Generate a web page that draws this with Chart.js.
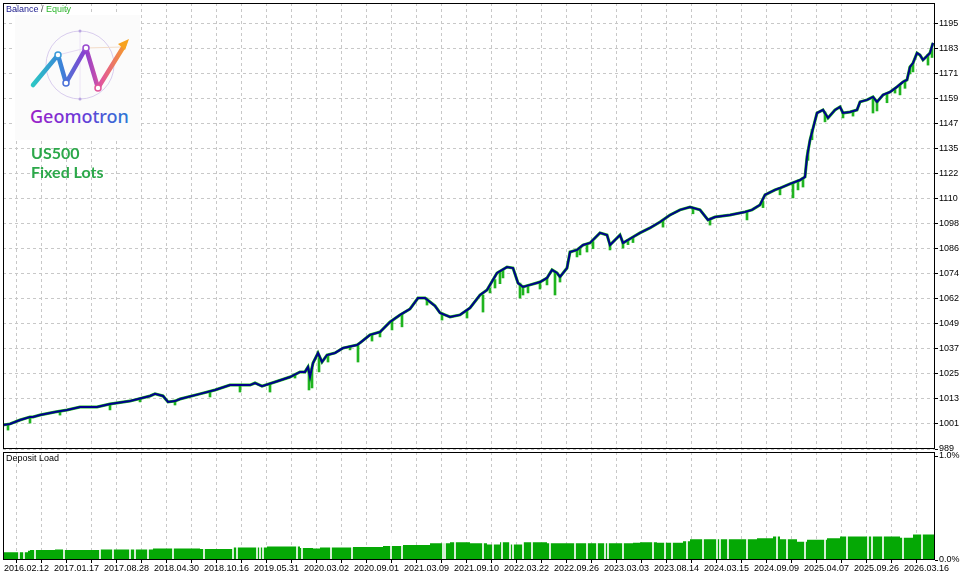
<!DOCTYPE html>
<html>
<head>
<meta charset="utf-8">
<script src="https://cdn.jsdelivr.net/npm/chart.js@4.4.1/dist/chart.umd.min.js"></script>
<style>
  body { margin: 0; background: #fff; width: 960px; height: 573px; overflow: hidden; position: relative; }
  canvas { position: absolute; left: 0; }
  #topChart { top: 0; }
  #loadChart { top: 451px; }
  .lbl { position: absolute; font-family: "Liberation Sans Narrow", "Liberation Sans", sans-serif; font-size: 9px; white-space: nowrap; color: #000; }
  #sym { position: absolute; left: 31px; top: 143px; font-family: Lato, "Open Sans", sans-serif; font-weight: 700; font-size: 16px; line-height: 19px; color: #2ca84a; }
  #logo { position: absolute; left: 0; top: 0; }
</style>
</head>
<body>
<canvas id="topChart" width="960" height="451"></canvas>
<canvas id="loadChart" width="960" height="122"></canvas>

<svg id="logo" width="160" height="145" xmlns="http://www.w3.org/2000/svg">
  <defs>
    <linearGradient id="zig" x1="33" y1="0" x2="128" y2="0" gradientUnits="userSpaceOnUse">
      <stop offset="0" stop-color="#2cc6c4"/>
      <stop offset="0.3" stop-color="#3a82d8"/>
      <stop offset="0.55" stop-color="#8a3fd0"/>
      <stop offset="0.72" stop-color="#e2569c"/>
      <stop offset="1" stop-color="#f7a21e"/>
    </linearGradient>
    <linearGradient id="word" x1="31" y1="0" x2="129" y2="0" gradientUnits="userSpaceOnUse">
      <stop offset="0" stop-color="#9a1fc8"/>
      <stop offset="0.5" stop-color="#6a3ad8"/>
      <stop offset="1" stop-color="#2a78d4"/>
    </linearGradient>
  </defs>
  <rect x="15" y="15" width="125" height="125" fill="#fbfbfb"/>
  <circle cx="80" cy="65" r="34" fill="none" stroke="#d9cdee" stroke-width="1"/>
  <line x1="58" y1="55" x2="86" y2="48" stroke="#e6daf3" stroke-width="1"/>
  <line x1="86" y1="48" x2="122" y2="47" stroke="#f3dcc8" stroke-width="1"/>
  <line x1="80" y1="31" x2="80" y2="99" stroke="#ece4f6" stroke-width="1"/>
  <polyline points="33,85 58,55 66,83 86,48 98,88 124,46" fill="none" stroke="url(#zig)" stroke-width="4.5" stroke-linecap="round" stroke-linejoin="round"/>
  <polygon points="129,39 118,44 125,50" fill="#f7a21e"/>
  <circle cx="58" cy="55" r="3" fill="#fff" stroke="#3a9ad8" stroke-width="1.5"/>
  <circle cx="66" cy="83" r="3" fill="#fff" stroke="#4a70d8" stroke-width="1.5"/>
  <circle cx="86" cy="48" r="3" fill="#fff" stroke="#9a4bd0" stroke-width="1.5"/>
  <circle cx="98" cy="88" r="3" fill="#fff" stroke="#e0559a" stroke-width="1.5"/>
  <circle cx="80" cy="31" r="1.5" fill="#b9a6e0"/>
  <circle cx="80" cy="99" r="1.5" fill="#b9a6e0"/>
  <text x="30" y="123" font-family="'Noto Sans', sans-serif" font-weight="500" font-size="18" fill="url(#word)">Geomotron</text>
</svg>

<div class="lbl" style="left:6px;top:4px"><span style="color:#1c1c8e">Balance</span> <span style="color:#555">/</span> <span style="color:#2db82d">Equity</span></div>
<div class="lbl" style="left:6px;top:453px">Deposit Load</div>
<div id="sym">US500<br>Fixed Lots</div>

<script>
// balance curve: trade index -> balance
const balanceX = [0,7,17,27,30,37,47,52,64,77,94,107,127,147,152,160,165,172,177,197,212,227,247,252,259,272,287,297,302,305,307,310,315,319,324,332,340,354,357,367,377,387,397,407,415,422,432,437,447,457,467,477,484,494,504,510,515,520,527,537,544,549,554,557,564,567,574,580,587,597,604,607,617,620,630,637,647,657,667,677,687,697,705,712,727,742,749,757,762,772,777,787,797,802,804,807,814,820,825,832,837,840,847,854,857,864,870,874,880,887,894,900,904,907,910,914,917,920,924,927,930];
const balanceY = [1000.3,1000.8,1002.7,1004.2,1004.2,1005.1,1006.1,1006.6,1007.6,1009.0,1009.0,1010.5,1011.9,1014.4,1015.4,1014.4,1011.5,1011.9,1012.9,1015.4,1017.3,1019.7,1019.7,1020.7,1019.2,1021.2,1023.6,1026.1,1026.1,1028.5,1023.6,1030.4,1035.3,1030.9,1034.3,1035.3,1037.7,1039.2,1040.2,1044.1,1045.5,1050.4,1053.8,1056.7,1062.0,1062.0,1058.2,1054.8,1052.8,1053.8,1057.2,1063.5,1065.9,1074.2,1077.1,1076.6,1069.3,1067.4,1068.4,1069.8,1071.8,1075.7,1074.2,1072.3,1076.6,1084.4,1085.4,1087.8,1088.8,1093.7,1092.7,1087.8,1092.7,1088.8,1091.7,1093.7,1096.1,1099.0,1102.4,1104.9,1106.3,1104.9,1100.0,1101.4,1102.4,1103.9,1104.9,1107.3,1112.2,1114.6,1115.5,1117.5,1119.4,1120.9,1130.6,1138.9,1152.0,1153.5,1149.6,1153.5,1155.0,1152.0,1152.5,1153.5,1157.4,1158.4,1159.8,1157.4,1160.8,1162.2,1164.7,1167.1,1168.1,1174.4,1176.3,1181.2,1180.2,1177.8,1179.7,1181.2,1186.1];

// equity drawdown spikes: trade index, equity low, equity high
const dipX    = [5,27,57,107,137,172,207,237,267,292,306,309,316,325,347,355,369,377,389,399,424,439,464,480,487,492,497,500,517,520,525,537,544,552,557,574,577,584,590,607,620,625,630,660,690,707,744,760,777,790,795,800,805,809,822,840,850,870,874,884,892,897,902,907,910,925,929];
const dipLow  = [997.8,1001.2,1005.1,1007.6,1011.5,1010.0,1013.9,1016.3,1016.3,1023.1,1017.3,1018.3,1026.1,1030.9,1036.8,1030.9,1041.1,1043.1,1046.5,1048.0,1058.6,1051.3,1052.3,1055.2,1064.5,1066.9,1069.0,1071.8,1062.0,1063.5,1064.5,1066.4,1068.4,1063.5,1069.8,1082.0,1083.0,1084.4,1086.0,1085.4,1086.3,1088.0,1089.0,1096.5,1103.0,1097.5,1100.0,1106.0,1112.2,1110.7,1114.6,1116.0,1129.0,1139.0,1147.7,1149.6,1150.5,1152.0,1153.0,1157.0,1161.7,1160.8,1164.0,1171.0,1172.0,1175.3,1179.0];
const dipHigh = [1000.6,1004.2,1007.0,1010.5,1013.0,1011.9,1016.8,1019.7,1020.5,1025.0,1027.0,1028.0,1033.0,1034.5,1038.5,1039.2,1044.1,1045.5,1051.0,1054.0,1062.0,1054.8,1056.0,1063.5,1067.0,1071.0,1075.0,1076.0,1069.3,1068.0,1068.4,1069.8,1071.8,1074.2,1072.3,1085.4,1086.0,1088.0,1089.5,1087.8,1088.8,1090.5,1091.7,1100.0,1106.0,1100.5,1104.0,1109.0,1115.5,1118.0,1119.4,1120.5,1134.0,1144.0,1152.5,1152.5,1153.0,1159.8,1157.4,1161.5,1164.0,1166.0,1168.0,1174.4,1176.3,1180.5,1183.0];

// deposit load (%), stepped
const loadX = [0,25,27,52,60,97,130,150,174,197,230,264,297,310,317,350,380,400,427,447,467,484,497,507,520,544,567,600,630,637,654,680,687,720,754,770,777,794,804,824,837,857,870,897,910,918,932];
const loadY = [0.07,0.075,0.09,0.095,0.10,0.096,0.10,0.10,0.11,0.11,0.105,0.12,0.13,0.115,0.11,0.12,0.125,0.135,0.145,0.16,0.17,0.16,0.15,0.17,0.15,0.17,0.16,0.16,0.16,0.165,0.17,0.165,0.18,0.2,0.2,0.21,0.225,0.2,0.175,0.195,0.21,0.225,0.225,0.225,0.215,0.245,0.245];
// idle gaps in the load histogram
const gapX = [16,21,32,61,97,110,127,132,145,170,201,230,234,254,257,260,294,299,328,349,388,399,440,442,452,480,490,499,507,510,520,529,547,572,584,594,602,605,620,650,662,669,684,700,714,717,725,744,774,784,802,822,844,865,869,880,900,919];

const dateLabels = ['2016.02.12','2017.01.17','2017.08.28','2018.04.30','2018.10.16','2019.05.31','2020.03.02','2020.09.01','2021.03.09','2021.09.10','2022.03.22','2022.09.26','2023.03.03','2023.08.14','2024.03.15','2024.09.09','2025.04.07','2025.09.26','2026.03.16'];
const dateTickPos = [1,51,101,151,201,251,301,351,401,451,501,551,601,651,701,751,801,851,901];

const equityTicks = [989,1001,1013,1025,1037,1049,1062,1074,1086,1098,1110,1122,1135,1147,1159,1171,1183,1195];
const yTickStart = 988.6, yTickStep = 12.16;
const loadTicks = ['0.0%','1.0%'];

const FONT = '"Liberation Sans Narrow", "Liberation Sans", sans-serif';
const GRID = '#c8c8c8';
const BALANCE_COLOR = '#00008b';
const EQUITY_COLOR = '#1fb41f';
const LOAD_COLOR = '#05a805';

// vertical grid every 25 units
const xGrid = [1];
for (let v = 26; v <= 926; v += 25) xGrid.push(v);

const framePlugin = {
  id: 'frame',
  afterDraw(chart) {
    const { ctx, chartArea: a } = chart;
    ctx.save();
    ctx.strokeStyle = '#000';
    ctx.lineWidth = 1;
    ctx.strokeRect(Math.round(a.left) + 0.5, Math.round(a.top) + 0.5, Math.round(a.right - a.left) - 1, Math.round(a.bottom - a.top) - 1);
    ctx.restore();
  }
};

function xAxis(showLabels) {
  return {
    type: 'linear', min: 0, max: 932, offset: false,
    afterBuildTicks: s => { s.ticks = xGrid.map(v => ({ value: v })); },
    afterFit: s => { s.paddingLeft = 0; s.paddingRight = 0; s.height = showLabels ? 13 : 0; },
    grid: {
      color: c => (c.tick && c.tick.value === 1) ? 'rgba(0,0,0,0)' : GRID,
      drawTicks: showLabels, tickLength: 3, tickColor: c => (c.tick && c.tick.value === 1) ? 'rgba(0,0,0,0)' : '#000'
    },
    border: { display: false, dash: [3, 3] },
    ticks: {
      display: showLabels, autoSkip: false, maxRotation: 0, align: 'start', padding: 0, color: '#000',
      font: { family: FONT, size: 9 },
      callback: v => { const i = dateTickPos.indexOf(v); return i >= 0 ? dateLabels[i] : ''; }
    }
  };
}

new Chart(document.getElementById('topChart'), {
  type: 'line',
  data: {
    datasets: [
      {
        label: 'Balance', order: 0,
        data: balanceX.map((x, i) => ({ x, y: balanceY[i] })),
        borderColor: BALANCE_COLOR, borderWidth: 2, pointRadius: 0, tension: 0
      },
      {
        label: 'Equity', order: 1,
        data: balanceX.map((x, i) => ({ x, y: balanceY[i] })),
        borderColor: EQUITY_COLOR, borderWidth: 3, pointRadius: 0, tension: 0
      },
      {
        type: 'bar', label: 'Equity dips', order: 2,
        data: dipX.map((x, i) => ({ x, y: [dipLow[i], dipHigh[i]] })),
        backgroundColor: EQUITY_COLOR, barThickness: 2, grouped: false
      }
    ]
  },
  options: {
    responsive: false, animation: false, devicePixelRatio: 1,
    layout: { padding: { left: 3, top: 3, right: 0, bottom: 2 } },
    plugins: { legend: { display: false }, tooltip: { enabled: false } },
    scales: {
      x: xAxis(false),
      y: {
        position: 'right', min: 988.6, max: 1205.5,
        afterBuildTicks: s => { s.ticks = equityTicks.map((t, i) => ({ value: yTickStart + i * yTickStep })); },
        afterFit: s => { s.width = 25; s.paddingTop = 0; s.paddingBottom = 0; },
        grid: { color: GRID, tickLength: 3, tickColor: '#000' },
        border: { display: false, dash: [3, 3] },
        ticks: { color: '#000', padding: 1, font: { family: FONT, size: 9 }, callback: (v, i) => equityTicks[i] }
      }
    }
  },
  plugins: [framePlugin]
});

new Chart(document.getElementById('loadChart'), {
  type: 'line',
  data: {
    datasets: [
      {
        label: 'Deposit Load', order: 1,
        data: loadX.map((x, i) => ({ x, y: loadY[i] })),
        stepped: 'after', fill: 'origin', backgroundColor: LOAD_COLOR, borderColor: LOAD_COLOR, borderWidth: 0, pointRadius: 0
      },
      {
        type: 'bar', label: 'idle', order: 0,
        data: gapX.map(x => ({ x, y: 0.255 })),
        backgroundColor: '#ffffff', barThickness: 1, grouped: false
      }
    ]
  },
  options: {
    responsive: false, animation: false, devicePixelRatio: 1,
    layout: { padding: { left: 3, top: 1, right: 0, bottom: 0 } },
    plugins: { legend: { display: false }, tooltip: { enabled: false } },
    scales: {
      x: xAxis(true),
      y: {
        position: 'right', min: 0, max: 1.0385,
        afterBuildTicks: s => { s.ticks = loadTicks.map((t, i) => ({ value: i })); },
        afterFit: s => { s.width = 25; s.paddingTop = 0; s.paddingBottom = 0; },
        grid: { drawOnChartArea: false, tickLength: 3, tickColor: '#000' },
        border: { display: false },
        ticks: { color: '#000', padding: 1, font: { family: FONT, size: 9 }, callback: (v, i) => loadTicks[i] }
      }
    }
  },
  plugins: [framePlugin]
});
</script>
</body>
</html>
